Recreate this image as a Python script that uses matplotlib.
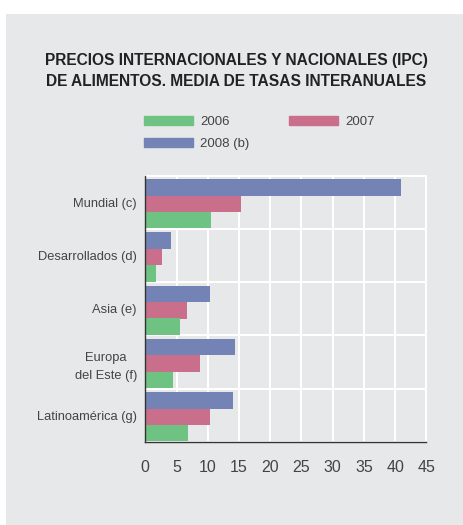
import matplotlib.pyplot as plt
from matplotlib.patches import Rectangle, Patch
import numpy as np

plt.rcParams['font.family'] = ['Liberation Sans', 'DejaVu Sans']

regions = ["Mundial (c)", "Desarrollados (d)", "Asia (e)", "Europa\ndel Este (f)", "Latinoamérica (g)"]
v2006 = [10.5, 1.7, 5.6, 4.5, 6.9]
v2007 = [15.3, 2.6, 6.6, 8.8, 10.3]
v2008 = [40.9, 4.1, 10.4, 14.4, 14.0]

c2006 = "#6ec383"
c2007 = "#c96f8c"
c2008 = "#7483b5"
bg = "#e7e8e9"
txt = "#444444"

W, H = 464, 525
fig = plt.figure(figsize=(W / 100, H / 100), dpi=100)
fig.patch.set_facecolor("white")
# gray panel behind everything
fig.add_artist(Rectangle((6 / W, 0), 1 - 6 / W, 1 - 12 / H - 2 / H,
                         transform=fig.transFigure, facecolor=bg, edgecolor="none", zorder=-10))

ax = fig.add_axes([145.3 / W, 1 - 442 / H, 281 / W, 266.3 / H])
ax.set_facecolor(bg)

y = np.arange(len(regions))
h = 0.308
ax.barh(y - 0.282, v2008, height=h, color=c2008, zorder=3)
ax.barh(y + 0.029, v2007, height=h, color=c2007, zorder=3)
ax.barh(y + 0.335, v2006, height=h, color=c2006, zorder=3)

ax.set_xlim(0, 45)
ax.set_ylim(4.5, -0.5)
ax.set_xticks(range(0, 50, 5))
ax.set_yticks(y)
ax.set_yticklabels(regions, fontsize=9.3, color=txt, linespacing=1.75)
for lab in ax.get_yticklabels():
    lab.set_multialignment("center")
ax.set_yticks(np.arange(-0.5, 4.6, 1), minor=True)
ax.tick_params(axis="y", which="both", length=0, pad=6)
ax.tick_params(axis="x", length=0, pad=13, labelsize=11.5, labelcolor=txt)
ax.grid(axis="x", color="white", lw=1.5, zorder=1)
ax.grid(axis="y", which="minor", color="white", lw=1.5, zorder=1)
ax.grid(axis="y", which="major", visible=False)

for s in ["top", "right"]:
    ax.spines[s].set_color("white")
    ax.spines[s].set_linewidth(1.5)
for s in ["left", "bottom"]:
    ax.spines[s].set_color("#333333")
    ax.spines[s].set_linewidth(1.0)
    ax.spines[s].set_zorder(5)

fig.text(236 / W, 1 - 71 / H,
         "PRECIOS INTERNACIONALES Y NACIONALES (IPC)\nDE ALIMENTOS. MEDIA DE TASAS INTERANUALES",
         ha="center", va="center", fontsize=11.2, fontweight="bold", color="#222222",
         linespacing=1.45)

handles = [Patch(color=c2006, label="2006"), Patch(color=c2008, label="2008 (b)"),
           Patch(color=c2007, label="2007")]
fig.legend(handles=handles, ncol=2, loc="upper left",
           bbox_to_anchor=(144 / W, 1 - 116 / H), frameon=False, fontsize=9.5,
           handlelength=3.7, handleheight=0.7, handletextpad=0.55, columnspacing=3.0,
           labelspacing=0.75, borderpad=0, borderaxespad=0, labelcolor=txt)

fig.savefig("out.png", dpi=100)
